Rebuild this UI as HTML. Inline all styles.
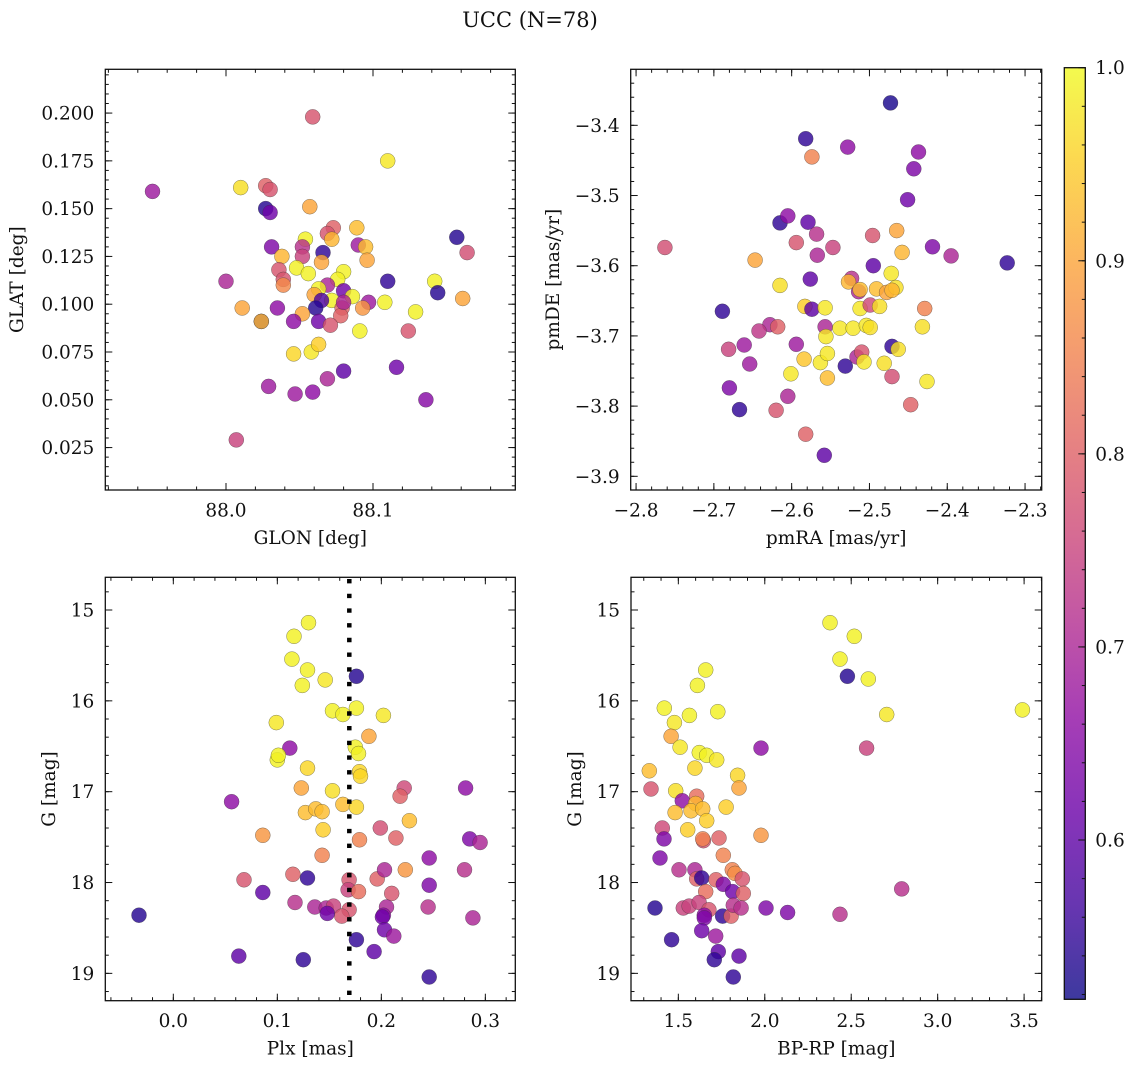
<!DOCTYPE html>
<html>
<head>
<meta charset="utf-8">
<style>
  html,body{margin:0;padding:0;background:#fff;}
  svg{display:block;}
  text{font-family:"DejaVu Serif","Liberation Serif",serif;fill:#111;}
</style>
</head>
<body>
<svg id="fig" width="1136" height="1067" viewBox="0 0 1136 1067" xmlns="http://www.w3.org/2000/svg">
  <defs>
    <linearGradient id="cbgrad" x1="0" y1="1" x2="0" y2="0"></linearGradient>
  </defs>
  <text x="530" y="27" text-anchor="middle" font-size="21">UCC (N=78)</text>
</svg>
<script>
// ---------- Panel 1: GLON / GLAT ----------
const glon = [87.950,88.010,88.059,88.110,88.027,88.030,88.027,88.030,88.057,88.031,88.073,88.069,88.089,88.054,88.072,88.066,88.052,88.038,88.052,88.090,88.095,88.096,88.065,88.048,88.056,88.080,88.076,88.036,88.039,88.039,88.069,88.063,88.000,88.110,88.142,88.157,88.164,88.144,88.161,88.129,88.097,88.108,88.093,88.080,88.086,88.072,88.060,88.065,88.061,88.079,88.078,88.080,88.052,88.035,88.011,88.024,88.024,88.046,88.063,88.071,88.091,88.124,88.046,88.058,88.063,88.080,88.069,88.116,88.029,88.047,88.059,88.136,88.007];
const glat = [0.159,0.161,0.198,0.175,0.162,0.160,0.150,0.148,0.151,0.130,0.140,0.137,0.140,0.134,0.134,0.127,0.130,0.125,0.125,0.131,0.130,0.123,0.122,0.119,0.116,0.117,0.113,0.118,0.113,0.110,0.110,0.108,0.112,0.112,0.112,0.135,0.127,0.106,0.103,0.096,0.101,0.101,0.098,0.107,0.104,0.102,0.105,0.102,0.098,0.098,0.094,0.101,0.095,0.098,0.098,0.091,0.091,0.091,0.091,0.089,0.086,0.086,0.074,0.075,0.079,0.065,0.061,0.067,0.057,0.053,0.054,0.050,0.029];
const prob1 = [0.68,0.97,0.78,0.98,0.80,0.78,0.54,0.62,0.90,0.64,0.80,0.78,0.93,0.99,0.92,0.55,0.72,0.92,0.75,0.68,0.93,0.90,0.90,0.99,0.99,0.99,0.99,0.78,0.78,0.86,0.70,0.99,0.70,0.55,0.99,0.54,0.77,0.54,0.90,0.99,0.68,0.99,0.88,0.62,0.99,0.99,0.90,0.58,0.54,0.80,0.80,0.70,0.90,0.66,0.90,0.54,0.92,0.66,0.62,0.78,0.99,0.78,0.96,0.98,0.95,0.60,0.70,0.62,0.68,0.68,0.66,0.65,0.75];

// ---------- Panel 2: pmRA / pmDE ----------
const pmra = [-2.473,-2.582,-2.528,-2.574,-2.437,-2.443,-2.451,-2.763,-2.615,-2.605,-2.579,-2.568,-2.594,-2.567,-2.547,-2.496,-2.465,-2.458,-2.419,-2.395,-2.323,-2.647,-2.495,-2.576,-2.615,-2.523,-2.527,-2.514,-2.512,-2.491,-2.478,-2.472,-2.466,-2.471,-2.689,-2.583,-2.574,-2.557,-2.512,-2.499,-2.487,-2.429,-2.628,-2.618,-2.642,-2.557,-2.556,-2.538,-2.521,-2.504,-2.499,-2.432,-2.681,-2.661,-2.594,-2.471,-2.463,-2.654,-2.584,-2.563,-2.554,-2.531,-2.516,-2.510,-2.507,-2.481,-2.601,-2.554,-2.471,-2.426,-2.680,-2.605,-2.667,-2.620,-2.447,-2.582,-2.558];
const pmde = [-3.368,-3.419,-3.431,-3.445,-3.438,-3.462,-3.506,-3.574,-3.539,-3.529,-3.538,-3.555,-3.567,-3.585,-3.574,-3.557,-3.550,-3.581,-3.573,-3.586,-3.596,-3.592,-3.600,-3.619,-3.628,-3.618,-3.623,-3.637,-3.634,-3.633,-3.638,-3.611,-3.631,-3.635,-3.665,-3.658,-3.662,-3.660,-3.661,-3.656,-3.658,-3.661,-3.684,-3.687,-3.693,-3.687,-3.701,-3.689,-3.689,-3.685,-3.688,-3.687,-3.719,-3.713,-3.712,-3.715,-3.719,-3.740,-3.733,-3.738,-3.725,-3.743,-3.730,-3.723,-3.737,-3.739,-3.754,-3.760,-3.758,-3.765,-3.774,-3.786,-3.805,-3.806,-3.798,-3.840,-3.870];
const prob2 = [0.53,0.55,0.66,0.85,0.66,0.64,0.62,0.77,0.55,0.66,0.60,0.72,0.78,0.70,0.75,0.78,0.90,0.92,0.64,0.70,0.55,0.90,0.60,0.60,0.97,0.72,0.92,0.70,0.93,0.93,0.90,0.98,0.97,0.92,0.55,0.95,0.60,0.98,0.98,0.76,0.97,0.85,0.70,0.80,0.73,0.70,0.98,0.98,0.98,0.98,0.97,0.97,0.75,0.68,0.68,0.55,0.97,0.68,0.94,0.98,0.98,0.55,0.70,0.78,0.98,0.97,0.98,0.93,0.77,0.98,0.64,0.70,0.55,0.78,0.80,0.80,0.60];

// ---------- Panel 3: Plx / G ----------
const plx = [0.130,0.116,0.114,0.129,0.124,0.146,0.176,0.153,0.163,0.176,0.202,0.099,0.188,0.112,0.100,0.101,0.175,0.178,0.129,0.179,0.180,0.123,0.153,0.222,0.218,0.056,0.127,0.137,0.143,0.163,0.176,0.227,0.144,0.086,0.199,0.214,0.179,0.281,0.285,0.295,0.143,0.246,0.115,0.129,0.068,0.169,0.196,0.203,0.223,0.280,0.246,0.086,0.168,0.178,0.210,0.117,0.136,0.147,0.154,0.169,0.162,0.148,0.205,0.202,0.201,0.245,0.288,-0.033,0.203,0.212,0.176,0.193,0.063,0.125,0.246];
const g3 = [15.14,15.29,15.54,15.66,15.83,15.77,15.73,16.11,16.15,16.08,16.16,16.24,16.39,16.52,16.65,16.60,16.51,16.58,16.74,16.78,16.83,16.96,16.99,16.96,17.05,17.11,17.23,17.19,17.22,17.14,17.17,17.32,17.42,17.48,17.40,17.51,17.53,16.96,17.52,17.56,17.70,17.73,17.91,17.95,17.97,17.97,17.96,17.86,17.86,17.86,18.03,18.11,18.08,18.10,18.12,18.22,18.27,18.28,18.26,18.30,18.37,18.34,18.27,18.36,18.38,18.27,18.39,18.36,18.52,18.59,18.63,18.76,18.81,18.85,19.04];
const prob3 = [0.99,0.99,0.99,0.99,0.99,0.98,0.54,0.99,0.99,0.99,0.98,0.98,0.90,0.66,0.99,0.99,0.99,0.99,0.96,0.96,0.96,0.90,0.97,0.76,0.80,0.66,0.93,0.93,0.93,0.93,0.96,0.93,0.95,0.88,0.77,0.80,0.85,0.66,0.64,0.70,0.85,0.66,0.80,0.55,0.78,0.78,0.80,0.70,0.88,0.72,0.64,0.60,0.75,0.82,0.78,0.72,0.70,0.70,0.75,0.78,0.78,0.62,0.70,0.66,0.62,0.72,0.70,0.54,0.62,0.68,0.55,0.60,0.60,0.55,0.55];

// ---------- Panel 4: BP-RP / G ----------
const bprp = [2.377,2.518,2.435,2.478,2.599,2.705,3.490,2.589,1.978,1.658,1.610,1.419,1.564,1.728,1.477,1.458,1.510,1.621,1.664,1.722,1.596,1.332,1.843,1.851,1.342,1.485,1.606,1.523,1.600,1.481,1.573,1.641,1.664,1.776,1.554,1.407,1.417,1.978,1.645,1.641,1.735,1.394,1.760,1.504,1.596,1.606,1.635,1.812,1.828,1.718,1.760,1.870,1.814,1.876,1.658,2.792,1.365,1.529,1.562,1.620,1.677,1.650,1.650,1.756,1.805,1.818,1.863,2.007,2.132,2.435,1.635,1.716,1.461,1.731,1.851,1.708,1.818];
const g4 = [15.14,15.29,15.54,15.73,15.76,16.15,16.10,16.52,16.52,15.66,15.83,16.08,16.16,16.12,16.24,16.39,16.51,16.57,16.60,16.65,16.74,16.77,16.82,16.96,16.97,16.99,17.05,17.10,17.13,17.23,17.21,17.19,17.32,17.17,17.42,17.40,17.52,17.48,17.54,17.52,17.51,17.73,17.70,17.86,17.86,17.96,17.95,17.86,17.90,17.97,18.02,17.96,18.10,18.12,18.10,18.07,18.28,18.28,18.26,18.22,18.30,18.36,18.39,18.37,18.37,18.25,18.28,18.28,18.33,18.35,18.53,18.59,18.63,18.76,18.81,18.85,19.04];
const prob4 = [0.99,0.99,0.99,0.54,0.99,0.98,0.99,0.75,0.66,0.99,0.99,0.99,0.99,0.99,0.98,0.90,0.98,0.99,0.99,0.98,0.96,0.93,0.96,0.90,0.78,0.97,0.82,0.66,0.92,0.93,0.93,0.93,0.95,0.95,0.95,0.76,0.64,0.88,0.78,0.85,0.80,0.64,0.85,0.72,0.70,0.80,0.55,0.85,0.87,0.80,0.64,0.78,0.62,0.80,0.82,0.72,0.54,0.75,0.75,0.75,0.78,0.66,0.64,0.55,0.80,0.72,0.72,0.64,0.64,0.72,0.62,0.68,0.55,0.60,0.60,0.55,0.55];

const plxRef = [0.1692];
const cbTicks = [0.6,0.7,0.8,0.9,1.0];
const cbRange = [0.5175,1.0];

// plasma colormap stops
const plasma = ["#0d0887","#41049d","#6a00a8","#8f0da4","#b12a90","#cc4778","#e16462","#f2844b","#fca636","#fcce25","#f0f921"];

const NS = "http://www.w3.org/2000/svg";
const svg = document.getElementById("fig");
const FS = 18.5;

function hex2rgb(h){return [parseInt(h.substr(1,2),16),parseInt(h.substr(3,2),16),parseInt(h.substr(5,2),16)];}
function cmap(v){
  let t=(v-cbRange[0])/(cbRange[1]-cbRange[0]); t=Math.max(0,Math.min(1,t));
  const f=t*10, i=Math.min(9,Math.floor(f)), u=f-i;
  const a=hex2rgb(plasma[i]), b=hex2rgb(plasma[i+1]);
  return "rgb("+a.map((c,k)=>Math.round(c+(b[k]-c)*u)).join(",")+")";
}
function el(tag,attrs,parent){
  const e=document.createElementNS(NS,tag);
  for(const k in attrs)e.setAttribute(k,attrs[k]);
  (parent||svg).appendChild(e);return e;
}
function fmt(v,d){const s=Math.abs(v).toFixed(d);return (v< -1e-9?"\u2212":"")+s;}

function panel(cfg){
  const g=el("g",{});
  
  
  const {l,r,t,b}=cfg;
  const sx=v=>l+(v-cfg.xd[0])/(cfg.xd[1]-cfg.xd[0])*(r-l);
  const sy=cfg.yinv? (v=>t+(v-cfg.yd[0])/(cfg.yd[1]-cfg.yd[0])*(b-t))
                   : (v=>b-(v-cfg.yd[0])/(cfg.yd[1]-cfg.yd[0])*(b-t));
  const pg=el("g",{},g);
  
  
  cfg.xs.forEach((_,i)=>{
    const c=el("circle",{cx:sx(cfg.xs[i]).toFixed(1),cy:sy(cfg.ys[i]).toFixed(1),r:7.5,fill:cmap(cfg.ps[i]),"fill-opacity":0.82,stroke:"#333","stroke-width":0.5,"stroke-opacity":0.6},pg);
    
    
  });
  if(cfg.extra)cfg.extra(g,sx,sy);
  const fr=el("rect",{x:l,y:t,width:r-l,height:b-t,fill:"none",stroke:"#111","stroke-width":1.3},g);
  
  
  const tg=el("g",{stroke:"#111","stroke-width":1},g);
  function ticks(d,step){const out=[];const s=Math.ceil(d[0]/step-1e-6);const e=Math.floor(d[1]/step+1e-6);for(let k=s;k<=e;k++)out.push(+(k*step).toFixed(6));return out;}
  const xmaj=ticks(cfg.xd,cfg.xstep), xmin=ticks(cfg.xd,cfg.xminor);
  const yr=[Math.min(...cfg.yd),Math.max(...cfg.yd)];
  const ymaj=ticks(yr,cfg.ystep), ymin=ticks(yr,cfg.yminor);
  xmin.forEach(v=>{const x=sx(v);el("line",{x1:x,y1:b,x2:x,y2:b-3.5},tg);el("line",{x1:x,y1:t,x2:x,y2:t+3.5},tg);});
  ymin.forEach(v=>{const y=sy(v);el("line",{x1:l,y1:y,x2:l+3.5,y2:y},tg);el("line",{x1:r,y1:y,x2:r-3.5,y2:y},tg);});
  xmaj.forEach(v=>{const x=sx(v);el("line",{x1:x,y1:b,x2:x,y2:b-7},tg);el("line",{x1:x,y1:t,x2:x,y2:t+7},tg);
    const tx=el("text",{x:x,y:b+26.5,"text-anchor":"middle","font-size":FS},g);tx.textContent=fmt(v,cfg.xdec);
    
    
  });
  ymaj.forEach(v=>{const y=sy(v);el("line",{x1:l,y1:y,x2:l+7,y2:y},tg);el("line",{x1:r,y1:y,x2:r-7,y2:y},tg);
    const tx=el("text",{x:l-11,y:y+6.5,"text-anchor":"end","font-size":FS},g);tx.textContent=fmt(v,cfg.ydec);
    
    
  });
  const xl=el("text",{x:(l+r)/2,y:b+54,"text-anchor":"middle","font-size":FS},g);xl.textContent=cfg.xlabel;
  
  
  const yl=el("text",{x:0,y:0,"text-anchor":"middle","font-size":FS,transform:"translate("+cfg.ylx+","+((t+b)/2)+") rotate(-90)"},g);yl.textContent=cfg.ylabel;
  
  
}

panel({name:"glon-glat-panel",l:105.3,r:515.3,t:69.3,b:490,xd:[87.9179,88.1968],yd:[0.0028,0.2229],
  xs:glon,ys:glat,ps:prob1,xstep:0.1,xminor:0.02,ystep:0.025,yminor:0.005,xdec:1,ydec:3,
  xlabel:"GLON [deg]",ylabel:"GLAT [deg]",ylx:23});
panel({name:"proper-motion-panel",l:630.7,r:1041.7,t:69.3,b:490,xd:[-2.8069,-2.2786],yd:[-3.9195,-3.3202],
  xs:pmra,ys:pmde,ps:prob2,xstep:0.1,xminor:0.02,ystep:0.1,yminor:0.02,xdec:1,ydec:1,
  xlabel:"pmRA [mas/yr]",ylabel:"pmDE [mas/yr]",ylx:559});
panel({name:"plx-g-panel",l:105.3,r:515.3,t:577.3,b:1000.7,xd:[-0.0654,0.3288],yd:[14.640,19.301],yinv:true,
  xs:plx,ys:g3,ps:prob3,xstep:0.1,xminor:0.02,ystep:1,yminor:0.2,xdec:1,ydec:0,
  xlabel:"Plx [mas]",ylabel:"G [mag]",ylx:55,
  extra:(g,sx,sy)=>{plxRef.forEach(v=>{const ln=el("line",{x1:sx(v),y1:579,x2:sx(v),y2:999,stroke:"#000","stroke-width":4.5,"stroke-dasharray":"4.4 10.3"},g);
    
    });}});
panel({name:"cmd-panel",l:631,r:1041.7,t:577.3,b:1000.7,xd:[1.2262,3.6018],yd:[14.640,19.301],yinv:true,
  xs:bprp,ys:g4,ps:prob4,xstep:0.5,xminor:0.1,ystep:1,yminor:0.2,xdec:1,ydec:0,
  xlabel:"BP-RP [mag]",ylabel:"G [mag]",ylx:581});

// ---------- colorbar ----------
const grad=document.getElementById("cbgrad");
plasma.forEach((c,i)=>{el("stop",{offset:(i/10),"stop-color":c},grad);});
const cb={l:1064.3,r:1085.3,t:67.7,b:999.3};
const cbg=el("g",{});


el("rect",{x:cb.l,y:cb.t,width:cb.r-cb.l,height:cb.b-cb.t,fill:"url(#cbgrad)","fill-opacity":0.8},cbg);
el("rect",{x:cb.l,y:cb.t,width:cb.r-cb.l,height:cb.b-cb.t,fill:"none",stroke:"#111","stroke-width":1.3},cbg);
const cy=v=>cb.b-(v-cbRange[0])/(cbRange[1]-cbRange[0])*(cb.b-cb.t);
for(let k=Math.ceil(cbRange[0]/0.02);k*0.02<=cbRange[1]+1e-9;k++){const y=cy(k*0.02);el("line",{x1:cb.r,y1:y,x2:cb.r-3.5,y2:y,stroke:"#111","stroke-width":1},cbg);}
cbTicks.forEach(v=>{const y=cy(v);el("line",{x1:cb.r,y1:y,x2:cb.r-7,y2:y,stroke:"#111","stroke-width":1},cbg);
  const tx=el("text",{x:cb.r+10,y:y+6.5,"font-size":FS},cbg);tx.textContent=v.toFixed(1);
  
  
});
</script>
</body>
</html>
